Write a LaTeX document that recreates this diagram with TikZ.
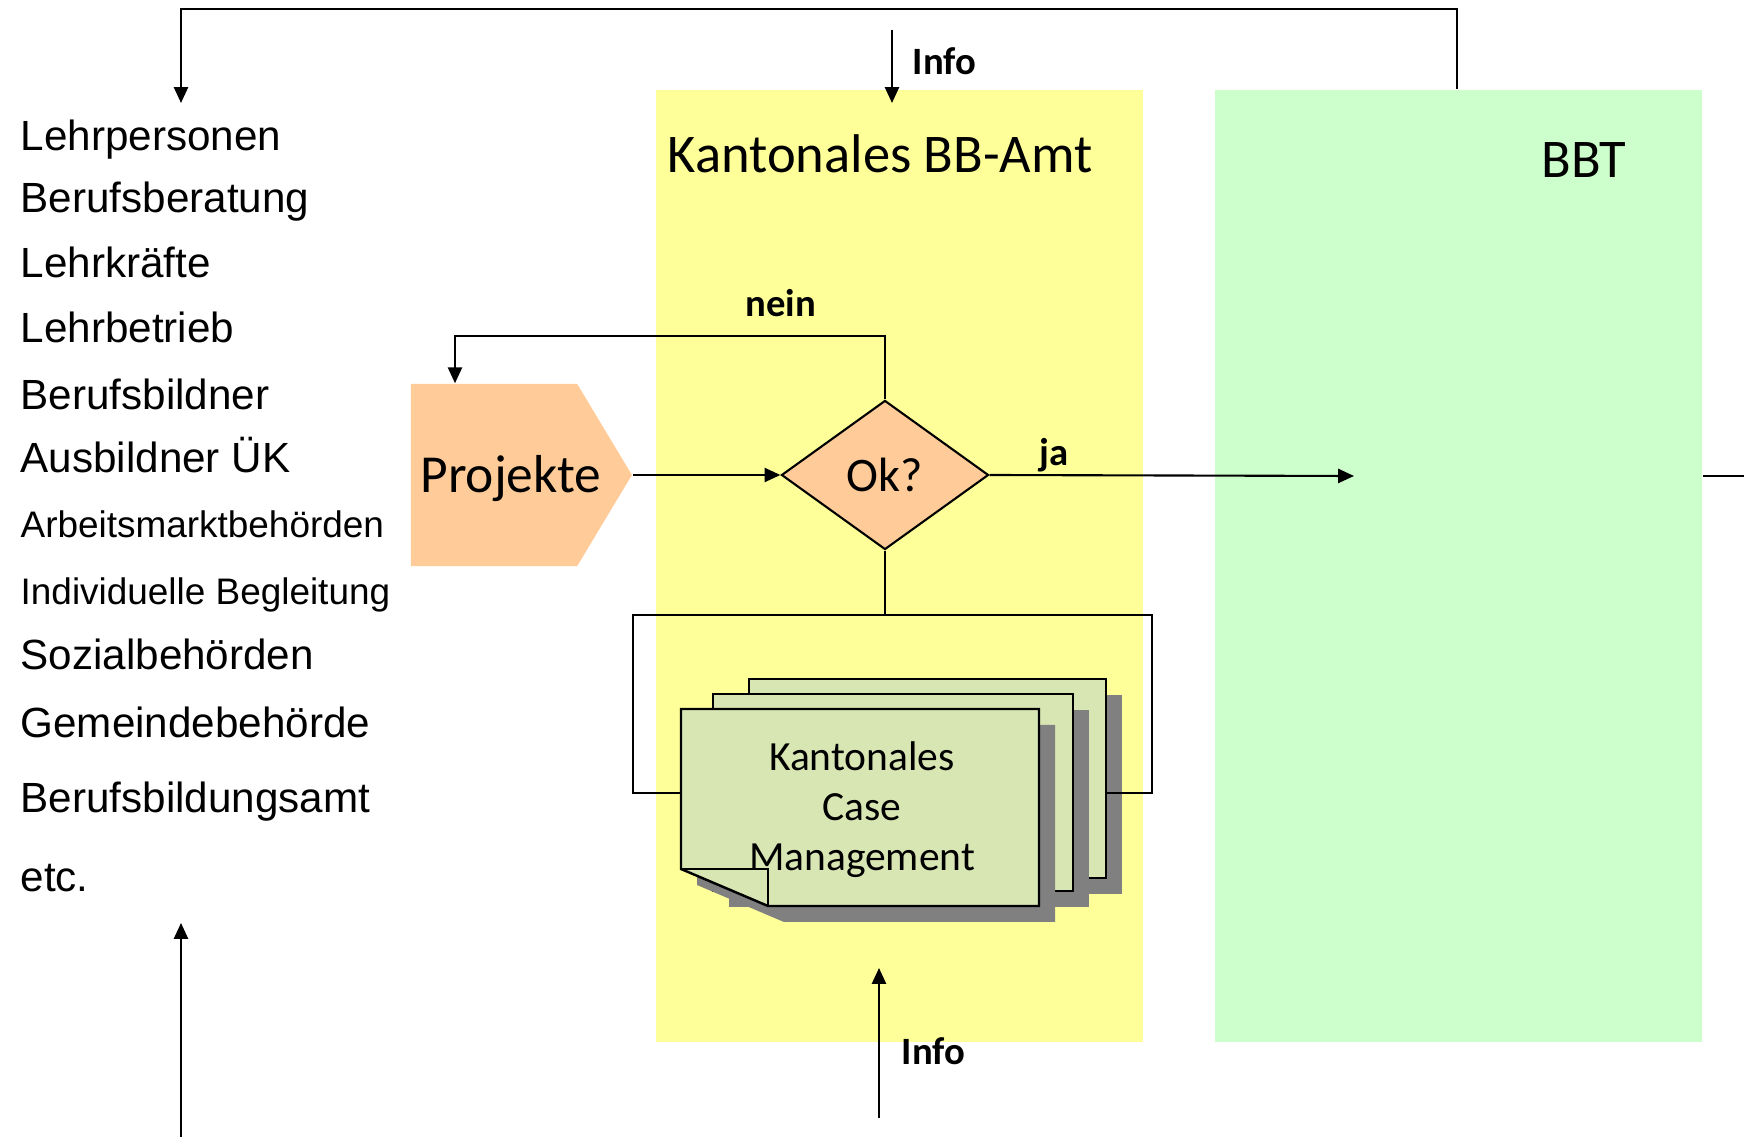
\documentclass[tikz,border=0pt]{standalone}
\usepackage{fontspec}
\setmainfont{Carlito}
\newfontfamily\arialfont{Liberation Sans}
\usepackage{tikz}
\usetikzlibrary{arrows.meta, positioning, shapes.geometric, shapes.symbols}
\definecolor{amtyellow}{HTML}{FFFF99}
\definecolor{bbtgreen}{HTML}{CCFFCC}
\definecolor{projorange}{HTML}{FFCC99}
\definecolor{docgreen}{HTML}{D8E6B4}
\definecolor{docshadow}{HTML}{808080}
\tikzstyle{amtbox}=[rectangle, fill=amtyellow, minimum width=4.87cm, minimum height=9.52cm, inner sep=0]
\tikzstyle{bbtbox}=[rectangle, fill=bbtgreen, minimum width=4.87cm, minimum height=9.52cm, inner sep=0]
\tikzstyle{projekt}=[signal, signal to=east, signal pointer angle=118, fill=projorange, minimum width=2.21cm, minimum height=1.82cm, inner sep=0]
\tikzstyle{decision}=[diamond, draw, line width=0.6pt, fill=projorange, minimum width=2.07cm, minimum height=1.49cm, inner sep=0, font=\fontsize{13.7}{16}\selectfont]
\tikzstyle{liste}=[anchor=base west, inner sep=0, font=\arialfont\fontsize{12}{14}\selectfont]
\tikzstyle{listeklein}=[liste, font=\arialfont\fontsize{10.5}{12}\selectfont]
\tikzstyle{titel}=[anchor=base west, inner sep=0, font=\fontsize{15.5}{18}\selectfont]
\tikzstyle{tag}=[anchor=base west, inner sep=0, font=\bfseries\fontsize{11}{13}\selectfont]
\tikzstyle{line}=[line width=0.6pt]
\tikzstyle{flow}=[line, -{Triangle[length=4.5pt, width=4pt]}]
\tikzstyle{doc}=[line width=0.7pt, fill=docgreen]

\begin{document}
\begin{tikzpicture}[x=0.01cm, y=-0.01cm]
  \useasboundingbox (0,0) rectangle (1744,1140);

  % columns
  \node[amtbox] (amt) at (899.5,566) {};
  \node[bbtbox] (bbt) at (1458.5,566) {};
  \node[titel] (amttitel) at (667,173) {Kantonales BB-Amt};
  \node[titel] (bbttitel) at (1541,178) {BBT};

  % list on the left
  \node[liste] (lehrp) at (20,151) {Lehrpersonen};
  \node[liste] (beratung) at (20,213) {Berufsberatung};
  \node[liste] (lehrkr) at (20,278) {Lehrkräfte};
  \node[liste] (betrieb) at (20,343) {Lehrbetrieb};
  \node[liste] (bildner) at (20,410) {Berufsbildner};
  \node[liste] (uek) at (20,473) {Ausbildner ÜK};
  \node[listeklein] (arbeit) at (20,538) {Arbeitsmarktbehörden};
  \node[listeklein] (begl) at (20,605) {Individuelle Begleitung};
  \node[liste] (sozial) at (20,670) {Sozialbehörden};
  \node[liste] (gemeinde) at (20,738) {Gemeindebehörde};
  \node[liste] (bbamt) at (20,813) {Berufsbildungsamt};
  \node[liste] (etc) at (20,892) {etc.};

  % flow
  \node[projekt] (proj) at (494,475) {};
  \node[anchor=base, inner sep=0, font=\fontsize{15.2}{18}\selectfont] (projtext) at (511,493) {Projekte};
  \node[decision] (ok) at (885,475) {Ok?};

  % stacked documents
  \fill[docshadow] (765,695) rectangle (1122,894);
  \draw[doc] (749,679) rectangle (1106,878);
  \fill[docshadow] (729,710) rectangle (1089,907);
  \draw[doc] (713,694) rectangle (1073,891);
  \fill[docshadow] (697,725) -- (1055,725) -- (1055,922) -- (784,922) -- (697,885) -- cycle;
  \draw[doc] (681,709) -- (1039,709) -- (1039,906) -- (768,906) -- (681,869) -- cycle;
  \draw[line] (681,869) -- (768,869) -- (768,906);
  \node[align=center, font=\fontsize{11.8}{14.2}\selectfont] (cm) at (862,810) {Kantonales\\Case\\Management};
  \coordinate (docL) at (681,793);
  \coordinate (docR) at (1106,793);

  % connectors
  \coordinate (topL) at (181,9);
  \coordinate (topR) at (1457,9);
  \coordinate (listtop) at (181,103);
  \draw[flow] (topR |- bbt.north) -- (topR) -- (topL) -- (listtop);

  \coordinate (infotop) at (892,30);
  \coordinate (infotopend) at (892,103);
  \draw[flow] (infotop) -- (infotopend);
  \node[tag] (info1) at (912,75) {Info};

  \coordinate (neinc) at (455,336);
  \draw[flow] (ok.north) |- (neinc) -- (neinc |- proj.north);
  \node[tag] (nein) at (745,317) {nein};

  \draw[flow] (proj.east) -- (ok.west);

  \coordinate (jaend) at (1354,476);
  \draw[flow] (ok.east) -- (jaend);
  \node[tag] (ja) at (1039,466) {ja};

  \coordinate (rand) at (1744,476);
  \draw[line] (bbt.east |- rand) -- (rand);

  \coordinate (split) at (885,615);
  \draw[line] (ok.south) -- (split);
  \draw[line] (docL) -- (633,793) |- (1152,615) |- (docR);

  \coordinate (infobot) at (879,1118);
  \coordinate (infobotend) at (879,968);
  \draw[flow] (infobot) -- (infobotend);
  \node[tag] (info2) at (901,1065) {Info};

  \coordinate (listbot) at (181,1137);
  \coordinate (listend) at (181,923);
  \draw[flow] (listbot) -- (listend);
\end{tikzpicture}
\end{document}
